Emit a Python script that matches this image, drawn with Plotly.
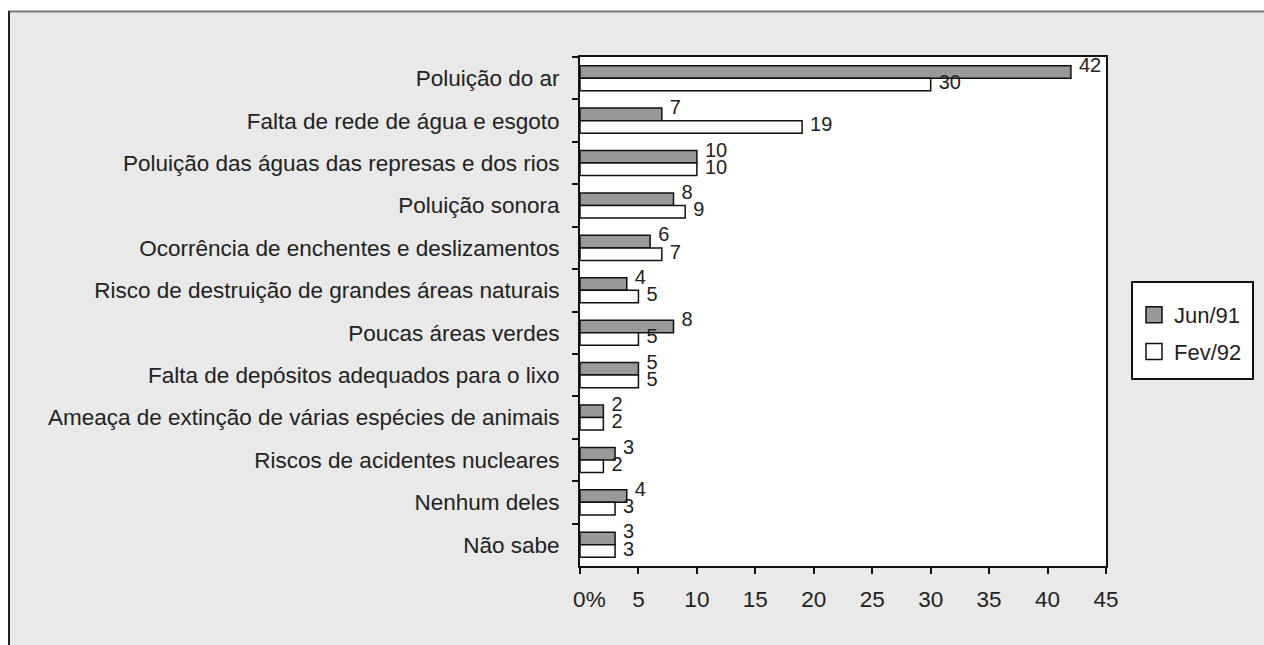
import plotly.graph_objects as go

categories = [
    "Poluição do ar",
    "Falta de rede de água e esgoto",
    "Poluição das águas das represas e dos rios",
    "Poluição sonora",
    "Ocorrência de enchentes e deslizamentos",
    "Risco de destruição de grandes áreas naturais",
    "Poucas áreas verdes",
    "Falta de depósitos adequados para o lixo",
    "Ameaça de extinção de várias espécies de animais",
    "Riscos de acidentes nucleares",
    "Nenhum deles",
    "Não sabe",
]
jun91 = [42, 7, 10, 8, 6, 4, 8, 5, 2, 3, 4, 3]
fev92 = [30, 19, 10, 9, 7, 5, 5, 5, 2, 2, 3, 3]
series_names = ["Jun/91", "Fev/92"]
x_ticks = [0, 5, 10, 15, 20, 25, 30, 35, 40, 45]
x_ticktext = ["\u00a0\u00a0\u00a00%", "5", "10", "15", "20", "25", "30", "35", "40", "45"]

FONT = "Liberation Sans, Arial, sans-serif"
W, H = 1264, 645
# plot area in screen pixels
L, R, T, B = 580, 1106, 57, 566
BARGAP = 0.41
# vertical placement of value labels relative to the category centre (band units)
LABEL_SHIFT = [-0.27, 0.135]


def px(sx):
    return (sx - L) / (R - L)


def py(sy):
    return (B - sy) / (B - T)


n = len(categories)
yrange = [n - 0.5, -0.5]
idx = list(range(n))

fills = ["#999999", "#ffffff"]
fig = go.Figure()
for name, vals, fill, grp in zip(series_names, [jun91, fev92], fills, ["a", "b"]):
    fig.add_trace(go.Bar(
        name=name, y=categories, x=vals, orientation="h",
        marker=dict(color=fill, line=dict(color="#111111", width=1.5)),
        legendgroup=grp, showlegend=False, hoverinfo="x+name",
    ))
# value labels (on an overlaid numeric axis aligned with the category bands)
for vals, shift in zip([jun91, fev92], LABEL_SHIFT):
    fig.add_trace(go.Scatter(
        x=vals, y=[i + shift for i in idx], yaxis="y2", mode="text",
        text=["\u2009\u2009" + str(v) for v in vals], textposition="middle right",
        textfont=dict(family=FONT, size=20, color="#222222"),
        cliponaxis=False, showlegend=False, hoverinfo="skip",
    ))
# legend entries with larger square swatches
for name, fill, grp in zip(series_names, fills, ["a", "b"]):
    fig.add_trace(go.Scatter(
        name=name, x=[None], y=[None], mode="markers",
        marker=dict(symbol="square", size=16, color=fill, line=dict(color="#111111", width=1.5)),
        legendgroup=grp, showlegend=True, hoverinfo="skip",
    ))

shapes = [
    # white margins outside the grey frame
    dict(type="rect", xref="paper", yref="paper", x0=px(-10), x1=px(1300), y0=py(11), y1=py(-20),
         fillcolor="white", line=dict(width=0), layer="above"),
    dict(type="rect", xref="paper", yref="paper", x0=px(-10), x1=px(8), y0=py(700), y1=py(-20),
         fillcolor="white", line=dict(width=0), layer="above"),
    dict(type="line", xref="paper", yref="paper", x0=px(8), x1=px(1300), y0=py(11.5), y1=py(11.5),
         line=dict(color="#7a7a7a", width=2), layer="above"),
    dict(type="line", xref="paper", yref="paper", x0=px(9), x1=px(9), y0=py(11), y1=py(700),
         line=dict(color="#222222", width=2), layer="above"),
    # legend box
    dict(type="rect", xref="paper", yref="paper", x0=px(1132), x1=px(1253), y0=py(379), y1=py(282),
         fillcolor="white", line=dict(color="#111111", width=2), layer="above"),
]

fig.update_layout(
    width=W, height=H,
    margin=dict(l=L, r=W - R, t=T, b=H - B, pad=0),
    paper_bgcolor="#e9e9e9",
    plot_bgcolor="#ffffff",
    barmode="group", bargap=BARGAP, bargroupgap=0,
    font=dict(family=FONT, size=22.5, color="#222222"),
    showlegend=True,
    legend=dict(
        x=px(1134), y=py(294), xanchor="left", yanchor="top",
        bgcolor="rgba(0,0,0,0)", borderwidth=0,
        font=dict(family=FONT, size=22, color="#222222"),
        traceorder="grouped", tracegroupgap=5,
    ),
    shapes=shapes,
    yaxis2=dict(overlaying="y", range=yrange, visible=False, showgrid=False, zeroline=False),
)
fig.update_xaxes(
    range=[0, 45], tickvals=x_ticks, ticktext=x_ticktext,
    showgrid=False, zeroline=False,
    showline=True, linecolor="#111111", linewidth=2, mirror=True,
    ticks="outside", ticklen=6, tickwidth=1.5, tickcolor="#111111",
    ticklabelstandoff=6,
    tickfont=dict(family=FONT, size=22.5, color="#222222"),
)
fig.layout.yaxis.update(
    type="category", categoryorder="array", categoryarray=categories,
    range=yrange,
    showgrid=False, zeroline=False,
    showline=True, linecolor="#111111", linewidth=2, mirror=True,
    ticks="outside", ticklen=6, tickwidth=1.5, tickcolor="#111111",
    tickson="boundaries", ticklabelstandoff=14,
    tickfont=dict(family=FONT, size=22.5, color="#222222"),
)

fig.write_html(
    "out.html",
    config={"displayModeBar": False},
    post_script=(
        "document.body.style.margin='0';"
        "document.documentElement.style.overflow='hidden';"
        "document.body.style.overflow='hidden';"
    ),
)
